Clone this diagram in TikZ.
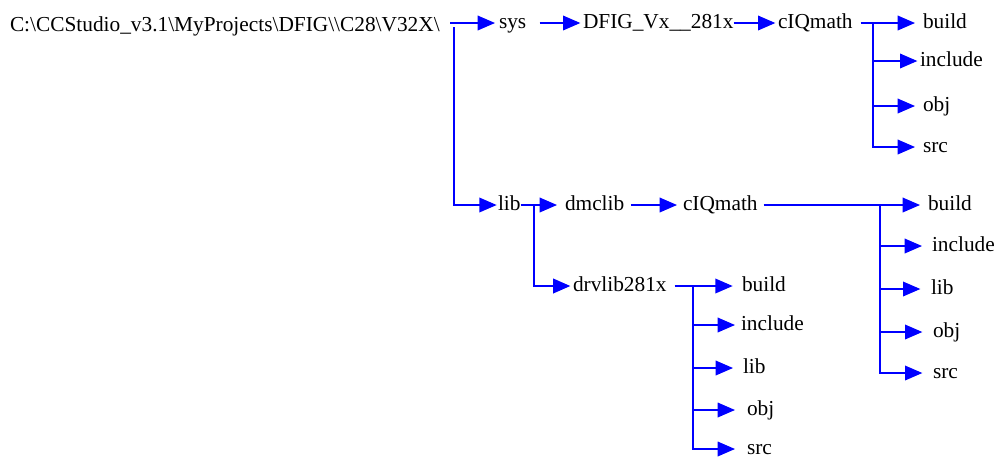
\documentclass[tikz,border=0pt]{standalone}
\usepackage{fontspec}
\setmainfont{Liberation Serif}
\usetikzlibrary{arrows.meta}
\tikzset{
  dir/.style={font=\fontsize{16}{19}\selectfont, inner sep=0pt, outer sep=0pt, anchor=west, text height=10pt, text depth=2pt},
  link/.style={draw=linkblue, line width=1pt, -{Triangle[length=13pt,width=11pt]}},
}
\begin{document}
\begin{tikzpicture}[x=0.75pt, y=-0.75pt]
\definecolor{linkblue}{RGB}{0,0,255}
\useasboundingbox (0,0) rectangle (994,458);
\node[dir, text height=14pt] (root) at (10,23) {C:\textbackslash CCStudio\_v3.1\textbackslash MyProjects\textbackslash DFIG\textbackslash\textbackslash C28\textbackslash V32X\textbackslash};
\node[dir] (sys) at (499,23) {sys};
\node[dir] (dfig) at (583,23) {DFIG\_Vx\_\_281x};
\node[dir] (cqa) at (778,23) {cIQmath};
\node[dir] (builda) at (923,23) {build};
\node[dir] (includea) at (920,61) {include};
\node[dir] (obja) at (923,106) {obj};
\node[dir] (srca) at (923,147) {src};
\node[dir] (lib) at (498,205) {lib};
\node[dir] (dmclib) at (565,205) {dmclib};
\node[dir] (cqb) at (683,205) {cIQmath};
\node[dir] (buildb) at (928,205) {build};
\node[dir] (includeb) at (932,246) {include};
\node[dir] (libb) at (931,289) {lib};
\node[dir] (objb) at (933,332) {obj};
\node[dir] (srcb) at (933,373) {src};
\node[dir] (drvlib) at (573,286) {drvlib281x};
\node[dir] (buildc) at (742,286) {build};
\node[dir] (includec) at (741,325) {include};
\node[dir] (libc) at (743,368) {lib};
\node[dir] (objc) at (747,410) {obj};
\node[dir] (srcc) at (747,449) {src};
\coordinate (rootfork) at (454,27);
\coordinate (forka) at (873,23);
\coordinate (forkb) at (880,205);
\coordinate (libfork) at (534,205);
\coordinate (forkc) at (693,286);
\draw[link, shorten <=8pt, shorten >=3pt] (root) -- (sys);
\draw[link, shorten <=10pt, shorten >=2pt] (sys) -- (dfig);
\draw[link, shorten >=2pt] (dfig) -- (cqa);
\draw[link, shorten <=6pt, shorten >=6pt] (cqa) -- (builda);
\draw[link, shorten >=2pt] (forka) |- (includea);
\draw[link, shorten >=6pt] (forka) |- (obja);
\draw[link, shorten >=6pt] (forka) |- (srca);
\draw[link, shorten >=1pt] (rootfork) |- (lib);
\draw[link, shorten >=6pt] (lib) -- (dmclib);
\draw[link, line width=1.5pt, shorten >=2pt] (libfork) |- (drvlib);
\draw[link, shorten <=5pt, shorten >=4.5pt] (dmclib) -- (cqb);
\draw[link, shorten <=4.5pt, shorten >=6pt] (cqb) -- (buildb);
\draw[link, shorten >=7.5pt] (forkb) |- (includeb);
\draw[link, shorten >=8pt] (forkb) |- (libb);
\draw[link, shorten >=8pt] (forkb) |- (objb);
\draw[link, shorten >=8pt] (forkb) |- (srcb);
\draw[link, shorten <=6pt, shorten >=7pt] (drvlib) -- (buildc);
\draw[link, shorten >=4.5pt] (forkc) |- (includec);
\draw[link, shorten >=7.5pt] (forkc) |- (libc);
\draw[link, shorten >=9pt] (forkc) |- (objc);
\draw[link, shorten >=9pt] (forkc) |- (srcc);
\end{tikzpicture}
\end{document}
